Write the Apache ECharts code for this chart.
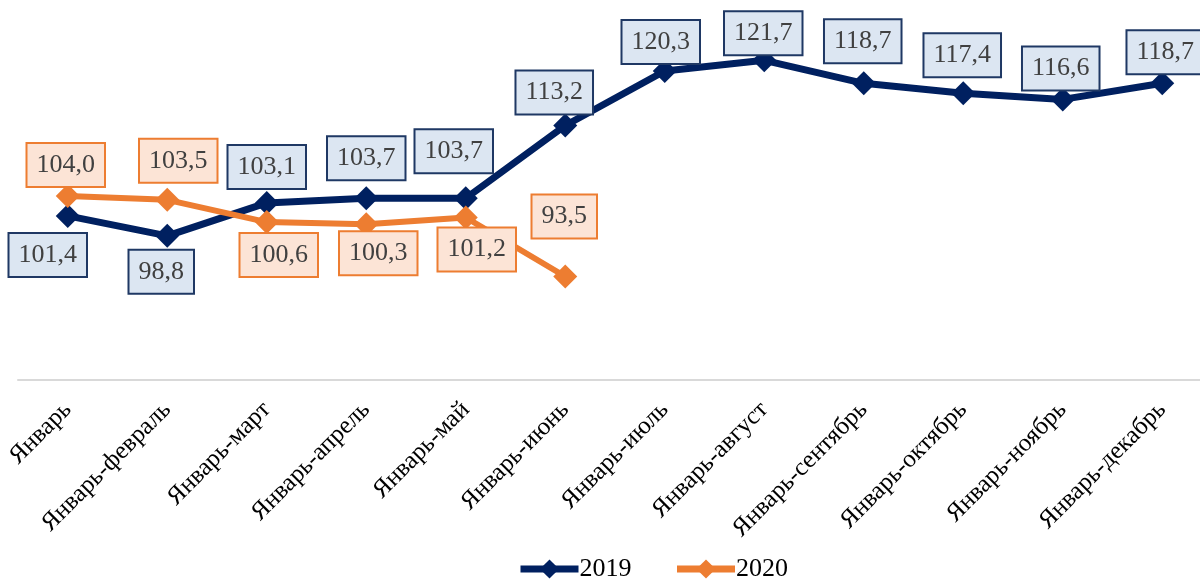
<!DOCTYPE html>
<html>
<head>
<meta charset="utf-8">
<script src="https://cdn.jsdelivr.net/npm/echarts@6/dist/echarts.min.js"></script>
<style>
  html, body { margin: 0; padding: 0; background: #fff; }
  #chart { width: 1200px; height: 581px; }
</style>
</head>
<body>
<div id="chart"></div>
<script>
const categories = [
  "Январь", "Январь-февраль", "Январь-март", "Январь-апрель", "Январь-май",
  "Январь-июнь", "Январь-июль", "Январь-август", "Январь-сентябрь",
  "Январь-октябрь", "Январь-ноябрь", "Январь-декабрь"
];
const values2019 = [101.4, 98.8, 103.1, 103.7, 103.7, 113.2, 120.3, 121.7, 118.7, 117.4, 116.6, 118.7];
const values2020 = [104.0, 103.5, 100.6, 100.3, 101.2, 93.5];

// label offsets (px) from each point
const offsets2019 = [[-20, 39], [-6, 36], [0, -36], [0, -40], [-12, -47], [-11, -33],
  [-4, -29], [-1, -27], [-1, -42], [-1, -38], [-2, -31], [3, -31]];
const offsets2020 = [[-2, -31], [11, -39], [12, 33], [12, 29], [11, 32], [-1, -60]];

const serif = "'Liberation Serif', 'Times New Roman', serif";
const navy = "#002060";
const orange = "#ED7D31";

function fmt(v) {
  return v.toFixed(1).replace(".", ",");
}

function buildData(values, offsets, fill, border) {
  return values.map((v, i) => ({
    value: v,
    label: {
      show: true,
      position: "inside",
      offset: offsets[i],
      formatter: fmt(v),
      fontFamily: serif,
      fontSize: 26,
      lineHeight: 26,
      color: "#404040",
      backgroundColor: fill,
      borderColor: border,
      borderWidth: 2,
      padding: [9, 9, 7, 9]
    }
  }));
}

const chart = echarts.init(document.getElementById("chart"));

const option = {
  animation: false,
  grid: { left: 18, width: 1194, top: 35, bottom: 201, outerBoundsMode: "none" },
  xAxis: {
    type: "category",
    data: categories,
    boundaryGap: true,
    axisLine: { lineStyle: { color: "#d9d9d9", width: 2 } },
    axisTick: { show: false },
    axisLabel: {
      rotate: 45,
      fontFamily: serif,
      fontSize: 25,
      color: "#000",
      margin: 26,
      interval: 0
    }
  },
  yAxis: {
    type: "value",
    min: 80,
    max: 125,
    show: false
  },
  legend: {
    bottom: -6,
    left: 512,
    itemWidth: 58,
    itemHeight: 24,
    itemGap: 42,
    textStyle: { fontFamily: serif, fontSize: 26, color: "#000", padding: [0, 0, 0, -4] },
    data: [
      { name: "2019", lineStyle: { width: 7 } },
      { name: "2020", lineStyle: { width: 7 } }
    ]
  },
  series: [
    {
      name: "2019",
      type: "line",
      data: buildData(values2019, offsets2019, "#DCE6F2", "#1F3864"),
      symbol: "diamond",
      symbolSize: 24,
      lineStyle: { color: navy, width: 7 },
      itemStyle: { color: navy },
      z: 3
    },
    {
      name: "2020",
      type: "line",
      data: buildData(values2020, offsets2020, "#FCE4D6", orange),
      symbol: "diamond",
      symbolSize: 24,
      lineStyle: { color: orange, width: 6 },
      itemStyle: { color: orange },
      z: 4
    }
  ]
};

chart.setOption(option);
</script>
</body>
</html>
